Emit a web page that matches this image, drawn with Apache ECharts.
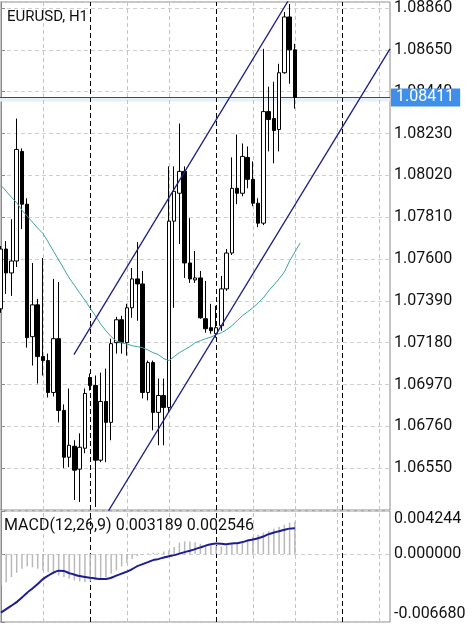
<!DOCTYPE html>
<html>
<head>
<meta charset="utf-8">
<script src="https://cdn.jsdelivr.net/npm/echarts/dist/echarts.min.js"></script>
<style>
html, body { margin: 0; padding: 0; background: #fff; }
#chart { width: 474px; height: 625px; }
</style>
</head>
<body>
<div id="chart"></div>
<script>
// EURUSD H1 蜡烛图 + MACD

// 开/收/低/高 (bar 0..56)
let opens = [1.07350, 1.07650, 1.07530, 1.07590, 1.08140, 1.07875, 1.07210, 1.07370, 1.07110, 1.07090,
    1.06930, 1.07200, 1.06840, 1.06605, 1.06660, 1.06545, 1.06650, 1.07005, 1.06965, 1.06590,
    1.06885, 1.06780, 1.07180, 1.07295, 1.07180, 1.07355, 1.07500, 1.07475, 1.06930, 1.07080,
    1.06830, 1.06915, 1.06855, 1.07790, 1.07930, 1.08040, 1.07580, 1.07495, 1.07505, 1.07300,
    1.07255, 1.07225, 1.07265, 1.07450, 1.07630, 1.07955, 1.07930, 1.08110, 1.08000, 1.07880,
    1.07780, 1.08340, 1.08305, 1.08250, 1.08535, 1.08815, 1.08650];
let closes = [1.07650, 1.07530, 1.07590, 1.08150, 1.07875, 1.07205, 1.07370, 1.07110, 1.07090, 1.06930,
    1.07200, 1.06840, 1.06605, 1.06665, 1.06540, 1.06655, 1.06925, 1.06965, 1.06590, 1.06885,
    1.06780, 1.07175, 1.07295, 1.07180, 1.07355, 1.07500, 1.07475, 1.06930, 1.07080, 1.06830,
    1.06915, 1.06855, 1.07790, 1.07940, 1.08040, 1.07580, 1.07500, 1.07505, 1.07305, 1.07250,
    1.07240, 1.07255, 1.07450, 1.07630, 1.07955, 1.07930, 1.08115, 1.08000, 1.07880, 1.07780,
    1.08340, 1.08300, 1.08245, 1.08535, 1.08815, 1.08650, 1.08411];
let lows = [1.07330, 1.07425, 1.07415, 1.07560, 1.07750, 1.07155, 1.07065, 1.06975, 1.07015, 1.06905,
    1.06910, 1.06780, 1.06550, 1.06555, 1.06390, 1.06380, 1.06625, 1.06940, 1.06355, 1.06580,
    1.06580, 1.06690, 1.07125, 1.07125, 1.07115, 1.07305, 1.07290, 1.06900, 1.06890, 1.06740,
    1.06665, 1.06665, 1.06830, 1.07355, 1.07675, 1.07505, 1.07480, 1.07480, 1.07300, 1.07230,
    1.07225, 1.07205, 1.07240, 1.07440, 1.07620, 1.07875, 1.07915, 1.07955, 1.07865, 1.07760,
    1.07770, 1.08140, 1.08080, 1.08140, 1.08530, 1.08480, 1.08355];
let highs = [1.07665, 1.07690, 1.07800, 1.08305, 1.08155, 1.07905, 1.07580, 1.07400, 1.07605, 1.07125,
    1.07500, 1.07485, 1.06870, 1.06950, 1.06690, 1.06725, 1.06950, 1.07025, 1.07015, 1.07030,
    1.07050, 1.07200, 1.07310, 1.07315, 1.07375, 1.07555, 1.07685, 1.07540, 1.07090, 1.07090,
    1.07000, 1.07000, 1.08065, 1.08065, 1.08280, 1.08065, 1.07805, 1.07640, 1.07540, 1.07490,
    1.07375, 1.07365, 1.07515, 1.07650, 1.08110, 1.08225, 1.08180, 1.08165, 1.08090, 1.07905,
    1.08655, 1.08465, 1.08490, 1.08580, 1.08840, 1.08880, 1.08680];

// 移动平均线 (bar 0..57)
let maValues = [1.07970, 1.07940, 1.07910, 1.07883, 1.07845, 1.07815, 1.07785, 1.07755, 1.07728, 1.07685,
    1.07640, 1.07595, 1.07550, 1.07505, 1.07468, 1.07430, 1.07393, 1.07353, 1.07315, 1.07273,
    1.07240, 1.07210, 1.07188, 1.07180, 1.07173, 1.07165, 1.07160, 1.07155, 1.07143, 1.07130,
    1.07120, 1.07100, 1.07090, 1.07110, 1.07130, 1.07145, 1.07160, 1.07180, 1.07190, 1.07200,
    1.07208, 1.07220, 1.07230, 1.07245, 1.07265, 1.07290, 1.07315, 1.07335, 1.07355, 1.07380,
    1.07405, 1.07440, 1.07470, 1.07500, 1.07535, 1.07590, 1.07635, 1.07680];

// MACD 柱 / 信号线
let macdHist = [-0.00308, -0.00276, -0.00226, -0.00184, -0.00144, -0.00121, -0.00128, -0.00144, -0.00160, -0.00177,
    -0.00193, -0.00210, -0.00226, -0.00243, -0.00259, -0.00269, -0.00276, -0.00266, -0.00253, -0.00243,
    -0.00226, -0.00193, -0.00160, -0.00121, -0.00085, -0.00046, -0.00020, -0.00005, 0.00007, 0.00013,
    0.00013, 0.00026, 0.00036, 0.00069, 0.00112, 0.00125, 0.00125, 0.00118, 0.00102, 0.00092,
    0.00085, 0.00079, 0.00075, 0.00085, 0.00098, 0.00112, 0.00131, 0.00151, 0.00171, 0.00190,
    0.00210, 0.00226, 0.00249, 0.00269, 0.00289, 0.00308, 0.003189];
let macdSignal = [-0.00576, -0.00541, -0.00507, -0.00472, -0.00428, -0.00379, -0.00339, -0.00295, -0.00246, -0.00212,
    -0.00182, -0.00164, -0.00167, -0.00187, -0.00202, -0.00216, -0.00226, -0.00233, -0.00239, -0.00246,
    -0.00244, -0.00233, -0.00212, -0.00192, -0.00172, -0.00148, -0.00118, -0.00098, -0.00079, -0.00059,
    -0.00049, -0.00034, -0.00020, -0.00010, 0.00005, 0.00020, 0.00034, 0.00049, 0.00066, 0.00084,
    0.00098, 0.00105, 0.00103, 0.00098, 0.00105, 0.00108, 0.00118, 0.00133, 0.00143, 0.00157,
    0.00174, 0.00197, 0.00212, 0.00226, 0.00239, 0.00251, 0.002546];

// 通道线 [bar, price]
let upperChannel = [[13.9, 1.07120], [74.13, 1.09740]];
let lowerChannel = [[13.9, 1.06051], [74.13, 1.08655]];

let gridBars = [8, 24, 32, 48, 56, 64, 72];
let separatorBars = [17, 41, 65];
let lastPrice = 1.08411;
let bandLow = 1.08391;

let priceMin = 1.06340, priceMax = 1.08890, priceStep = 0.0021;
let macdMin = -0.00668, macdMax = 0.004244;
let barMin = -0.182, barMax = 74.13;

let candleData = opens.map(function (o, i) {
    return [i, o, closes[i], lows[i], highs[i]];
});
let maData = maValues.map(function (v, i) { return [i, v]; });
let histData = macdHist.map(function (v, i) { return [i, v]; });
let signalData = macdSignal.map(function (v, i) { return [i, v]; });

let vLines = gridBars.map(function (b) {
    return { xAxis: b, lineStyle: { color: '#c4c4c4', type: [4, 3], width: 1 } };
}).concat(separatorBars.map(function (b) {
    return { xAxis: b, lineStyle: { color: '#000', type: [5, 3], width: 1 } };
}));

let font = 'Roboto';

let Chart_main = echarts.init(document.getElementById('chart'));

option = {
    animation: false,
    backgroundColor: '#fff',
    title: [
        {
            text: 'EURUSD, H1',
            left: 7,
            top: 10,
            padding: 0,
            textStyle: { fontFamily: font, fontSize: 15, fontWeight: 'normal', color: '#111' }
        },
        {
            text: 'MACD(12,26,9) 0.003189 0.002546',
            left: 4,
            top: 518,
            padding: 0,
            textStyle: { fontFamily: font, fontSize: 16, fontWeight: 'normal', color: '#111' }
        }
    ],
    grid: [
        { left: 0, top: 0, width: 390, height: 510, show: true, borderColor: '#8a8a8a', borderWidth: 1 },
        { left: 0, top: 511, width: 390, height: 111, show: true, borderColor: '#8a8a8a', borderWidth: 1 }
    ],
    xAxis: [
        { type: 'value', gridIndex: 0, min: barMin, max: barMax, show: false },
        { type: 'value', gridIndex: 1, min: barMin, max: barMax, show: false }
    ],
    yAxis: [
        {
            type: 'value',
            gridIndex: 0,
            position: 'right',
            min: priceMin,
            max: priceMax,
            interval: priceStep,
            axisLine: { show: true, lineStyle: { color: '#8a8a8a' } },
            axisTick: { show: true, length: 4, lineStyle: { color: '#8a8a8a' } },
            axisLabel: {
                margin: 4,
                fontFamily: font,
                fontSize: 16,
                color: '#111',
                showMinLabel: false,
                showMaxLabel: false,
                formatter: function (v) { return v.toFixed(5); }
            },
            splitLine: { show: true, lineStyle: { color: '#cfcfcf', type: [4, 3] } }
        },
        {
            type: 'value',
            gridIndex: 1,
            position: 'right',
            min: macdMin,
            max: macdMax,
            interval: -macdMin,
            axisLine: { show: true, lineStyle: { color: '#8a8a8a' } },
            axisTick: { show: true, length: 4, lineStyle: { color: '#8a8a8a' } },
            axisLabel: {
                margin: 4,
                fontFamily: font,
                fontSize: 16,
                color: '#111',
                verticalAlignMaxLabel: 'top',
                verticalAlignMinLabel: 'bottom',
                formatter: function (v) { return v.toFixed(6); }
            },
            splitLine: { show: true, lineStyle: { color: '#cfcfcf', type: [4, 3] } }
        }
    ],
    series: [
        {
            name: 'EURUSD',
            type: 'candlestick',
            xAxisIndex: 0,
            yAxisIndex: 0,
            z: 6,
            barWidth: 4,
            data: candleData,
            itemStyle: {
                color: '#ffffff',
                color0: '#000000',
                borderColor: '#000000',
                borderColor0: '#000000',
                borderWidth: 1
            }
        },
        {
            name: 'MA',
            type: 'line',
            xAxisIndex: 0,
            yAxisIndex: 0,
            z: 7,
            data: maData,
            symbol: 'none',
            lineStyle: { color: '#3aa59c', width: 1 },
            markArea: {
                silent: true,
                itemStyle: { color: '#e4f0fa' },
                data: [[{ yAxis: lastPrice }, { yAxis: bandLow }]]
            },
            markLine: {
                silent: true,
                precision: 5,
                symbol: ['none', 'none'],
                animation: false,
                label: { show: false },
                data: vLines.concat([{
                    yAxis: lastPrice,
                    lineStyle: { color: '#2f4f7a', type: 'solid', width: 1 },
                    label: {
                        show: true,
                        position: 'end',
                        distance: 1,
                        formatter: lastPrice.toFixed(5),
                        backgroundColor: '#3f8fea',
                        color: '#fff',
                        fontFamily: font,
                        fontSize: 16,
                        padding: [1, 6, 1, 5]
                    }
                }])
            }
        },
        {
            name: 'channel-up',
            type: 'line',
            xAxisIndex: 0,
            yAxisIndex: 0,
            z: 7,
            data: upperChannel,
            symbol: 'none',
            lineStyle: { color: '#1e1e82', width: 1.3 }
        },
        {
            name: 'channel-down',
            type: 'line',
            xAxisIndex: 0,
            yAxisIndex: 0,
            z: 7,
            data: lowerChannel,
            symbol: 'none',
            lineStyle: { color: '#1e1e82', width: 1.3 }
        },
        {
            name: 'MACD',
            type: 'bar',
            xAxisIndex: 1,
            yAxisIndex: 1,
            z: 6,
            barWidth: 1.5,
            data: histData,
            itemStyle: { color: '#b9b9b9' }
        },
        {
            name: 'Signal',
            type: 'line',
            xAxisIndex: 1,
            yAxisIndex: 1,
            z: 7,
            data: signalData,
            symbol: 'none',
            smooth: 0.3,
            lineStyle: { color: '#1c1c96', width: 2 },
            markLine: {
                silent: true,
                symbol: ['none', 'none'],
                animation: false,
                label: { show: false },
                data: vLines
            }
        }
    ]
};

Chart_main.setOption(option);
</script>
</body>
</html>
